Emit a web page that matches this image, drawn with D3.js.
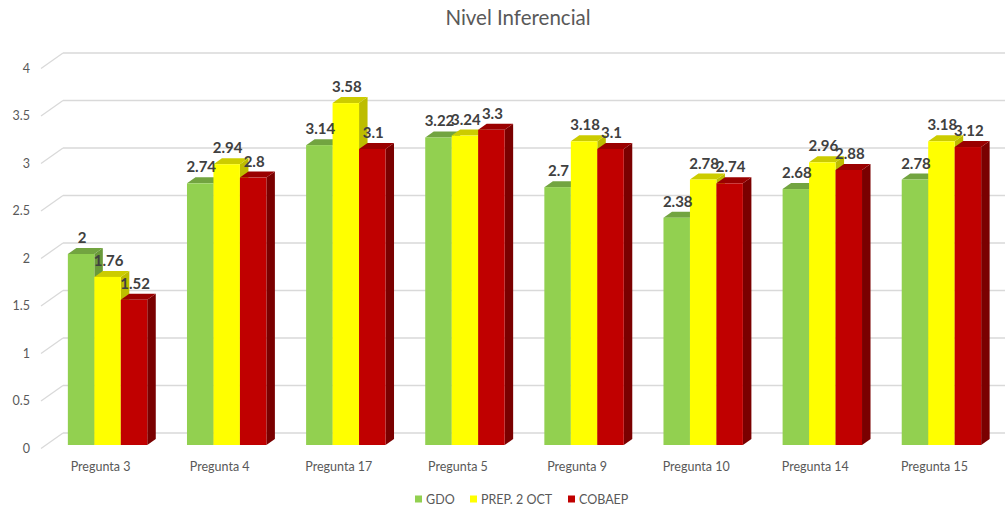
<!DOCTYPE html>
<html><head><meta charset="utf-8">
<script src="https://cdn.jsdelivr.net/npm/d3@7"></script>
<style>body{margin:0;background:#fff}svg{display:block}</style>
</head><body><svg id="c" width="1006" height="506"></svg>
<script>
const categories = ["Pregunta 3","Pregunta 4","Pregunta 17","Pregunta 5","Pregunta 9","Pregunta 10","Pregunta 14","Pregunta 15"];
const seriesNames = ["GDO","PREP. 2 OCT","COBAEP"];
const gdo   = [2, 2.74, 3.14, 3.22, 2.7, 2.38, 2.68, 2.78];
const prep  = [1.76, 2.94, 3.58, 3.24, 3.18, 2.78, 2.96, 3.18];
const cobaep= [1.52, 2.8, 3.1, 3.3, 3.1, 2.74, 2.88, 3.12];
const yTicks = [0, 0.5, 1, 1.5, 2, 2.5, 3, 3.5, 4];
const title = "Nivel Inferencial";

const colors = {
  front: ["#92D050", "#FFFF00", "#C00000"],
  top:   ["#72A440", "#CCCC00", "#9A0000"],
  side:  ["#6A9A3A", "#BDBD00", "#7A0000"]
};
const series = [gdo, prep, cobaep];

const svg = d3.select("#c");
const font = "Lato, 'Open Sans', sans-serif";

// scales
const yBack  = d3.scaleLinear().domain([0,4]).range([433,53]);
const yFloor = d3.scaleLinear().domain([0,4]).range([448.5,68.5]);
const yFront = d3.scaleLinear().domain([0,4]).range([445,63]);
const x0 = d3.scaleBand().domain(categories).range([48,1001]).paddingInner(1/3).paddingOuter(1/6);
const x1 = d3.scaleBand().domain(d3.range(3)).range([0, x0.bandwidth()]);
const dx = 8.5, dy = -6;

// title
svg.append("text").attr("x", 518).attr("y", 25).attr("text-anchor","middle")
  .attr("font-family", font).attr("font-size", 20.5).attr("fill","#595959").text(title);

// gridlines
const g = svg.append("g");
yTicks.forEach(t => {
  g.append("line").attr("x1",63).attr("x2",1005).attr("y1",yBack(t)).attr("y2",yBack(t))
    .attr("stroke","#D9D9D9").attr("stroke-width",1.3);
  g.append("line").attr("x1",41).attr("x2",63).attr("y1",yFloor(t)).attr("y2",yBack(t))
    .attr("stroke","#D9D9D9").attr("stroke-width",1.3);
  g.append("text").attr("x",30).attr("y",yFloor(t)+4).attr("text-anchor","end")
    .attr("font-family",font).attr("font-size",12.5).attr("fill","#595959").text(t);
});

// bars
const bars = svg.append("g");
categories.forEach((c, i) => {
  series.forEach((s, k) => {
    const v = s[i];
    const xl = x0(c) + x1(k), xr = xl + x1.bandwidth();
    const yt = yFront(v), yb = yFront(0);
    bars.append("path")
      .attr("d", `M${xr},${yt}L${xr+dx},${yt+dy}L${xr+dx},${yb+dy}L${xr},${yb}Z`)
      .attr("fill", colors.side[k]);
    bars.append("path")
      .attr("d", `M${xl},${yt}L${xl+dx},${yt+dy}L${xr+dx},${yt+dy}L${xr},${yt}Z`)
      .attr("fill", colors.top[k]);
    bars.append("rect").attr("x", xl).attr("y", yt).attr("width", xr-xl).attr("height", yb-yt)
      .attr("fill", colors.front[k]);
  });
});

// data labels
const labels = svg.append("g");
categories.forEach((c, i) => {
  series.forEach((s, k) => {
    const v = s[i];
    labels.append("text")
      .attr("x", x0(c) + x1(k) + x1.bandwidth()/2 + 1)
      .attr("y", yFront(v) - 11)
      .attr("text-anchor","middle").attr("font-family",font).attr("font-weight","bold")
      .attr("font-size",15).attr("fill","#404040").text(v);
  });
});

// category labels
categories.forEach(c => {
  svg.append("text").attr("x", x0(c) + x0.bandwidth()/2 - 7).attr("y", 471)
    .attr("text-anchor","middle").attr("font-family",font).attr("font-size",12.5)
    .attr("fill","#595959").text(c);
});

// legend
const legendX = [415, 470, 568];
seriesNames.forEach((n, k) => {
  svg.append("rect").attr("x", legendX[k]).attr("y", 495.5).attr("width",7).attr("height",7)
    .attr("fill", colors.front[k]);
  svg.append("text").attr("x", legendX[k]+11).attr("y", 504)
    .attr("font-family",font).attr("font-size",12.5).attr("fill","#595959").text(n);
});
</script></body></html>
